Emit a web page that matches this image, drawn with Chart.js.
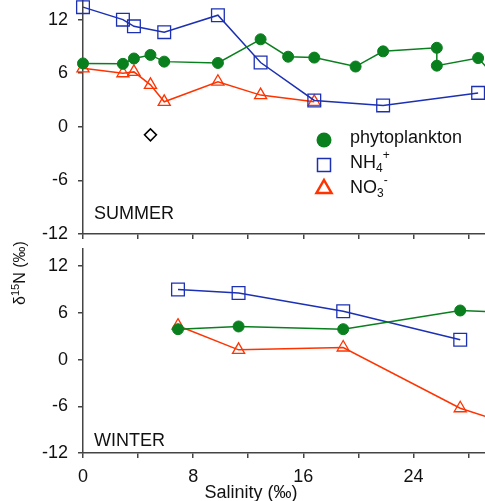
<!DOCTYPE html>
<html>
<head>
<meta charset="utf-8">
<script src="https://cdn.jsdelivr.net/npm/chart.js@4/dist/chart.umd.min.js"></script>
<style>
  html, body { margin: 0; padding: 0; background: #fff; overflow: hidden; }
  #wrap { position: relative; width: 485px; height: 501px; }
  #summer { position: absolute; left: 0; top: 0; }
  #winter { position: absolute; left: 0; top: 236px; }
</style>
</head>
<body>
<div id="wrap">
  <canvas id="summer" width="485" height="241"></canvas>
  <canvas id="winter" width="485" height="265"></canvas>
</div>
<script>
    // Summer samples (salinity in ‰, d15N in ‰)
    var summerPhytoSal = [0, 2.9, 3.7, 4.9, 5.9, 9.8, 12.9, 14.9, 16.8, 19.8, 21.8, 25.7, 25.7, 28.7, 30];
    var summerPhyto    = [7.1, 7.05, 7.65, 8.05, 7.3, 7.15, 9.8, 7.85, 7.75, 6.75, 8.45, 8.85, 6.85, 7.7, 5.5];
    var summerNH4Sal   = [0, 2.9, 3.7, 5.9, 9.8, 12.9, 16.8, 21.8, 28.7];
    var summerNH4      = [13.4, 12.0, 11.25, 10.6, 12.5, 7.2, 2.95, 2.4, 3.8];
    var summerNO3Sal   = [0, 2.9, 3.7, 4.9, 5.9, 9.8, 12.9, 16.8];
    var summerNO3      = [6.55, 6.0, 6.15, 4.7, 2.8, 5.05, 3.55, 2.8];
    var summerOtherSal = [4.9];
    var summerOther    = [-0.9];

    // Winter samples
    var winterPhytoSal = [6.9, 11.3, 18.9, 27.4, 30];
    var winterPhyto    = [3.9, 4.25, 3.9, 6.3, 6.1];
    var winterNH4Sal   = [6.9, 11.3, 18.9, 27.4];
    var winterNH4      = [9.0, 8.55, 6.2, 2.55];
    var winterNO3Sal   = [6.9, 11.3, 18.9, 27.4, 30];
    var winterNO3      = [4.35, 1.25, 1.55, -6.25, -7.75];

    // Axis ticks
    var yTicks  = [-12, -6, 0, 6, 12];
    var xTicks  = [0, 4, 8, 12, 16, 20, 24, 28];
    var xLabels = [0, 8, 16, 24];

    var FONT = '"Liberation Sans", Arial, sans-serif';
    var GREEN = '#0a7f1e', BLUE = '#1c30b4', RED = '#ff3300';
    var AXIS = '#444';

    function pts(xs, ys) {
        return xs.map(function (x, i) { return { x: x, y: ys[i] }; });
    }

    function phytoSet(data) {
        return {
            label: 'phytoplankton', data: data,
            borderColor: GREEN, backgroundColor: GREEN, borderWidth: 1.5,
            pointStyle: 'circle', pointRadius: 5.5, pointBorderWidth: 1,
            pointBackgroundColor: GREEN, clip: false
        };
    }
    function nh4Set(data) {
        return {
            label: 'NH4+', data: data,
            borderColor: BLUE, backgroundColor: 'rgba(0,0,0,0)', borderWidth: 1.5,
            pointStyle: 'rect', pointRadius: 9, pointBorderWidth: 1.3,
            pointBackgroundColor: 'rgba(0,0,0,0)', clip: false
        };
    }
    function no3Set(data) {
        return {
            label: 'NO3-', data: data,
            borderColor: RED, backgroundColor: 'rgba(0,0,0,0)', borderWidth: 1.5,
            pointStyle: 'triangle', pointRadius: 7, pointBorderWidth: 1.3,
            pointBackgroundColor: 'rgba(0,0,0,0)', clip: false
        };
    }

    function makeScales(showLabels, xHeight) {
        return {
            x: {
                type: 'linear', min: 0, max: 29.2,
                afterBuildTicks: function (s) { s.ticks = xTicks.map(function (v) { return { value: v }; }); },
                afterFit: function (s) { s.height = xHeight; s.paddingLeft = 0; s.paddingRight = 0; },
                grid: { drawOnChartArea: false, drawTicks: true, tickLength: 5, color: AXIS, lineWidth: 1.5 },
                border: { color: AXIS, width: 1.5 },
                ticks: {
                    display: showLabels, padding: 8, color: '#111', maxRotation: 0, autoSkip: false,
                    font: { family: FONT, size: 18 },
                    callback: function (v) { return xLabels.indexOf(v) >= 0 ? String(v) : ''; }
                }
            },
            y: {
                min: -12, max: 14.2,
                afterBuildTicks: function (s) { s.ticks = yTicks.map(function (v) { return { value: v }; }); },
                afterFit: function (s) { s.width = 83; s.paddingTop = 0; s.paddingBottom = 0; },
                grid: { drawOnChartArea: false, drawTicks: true, tickLength: 5, color: AXIS, lineWidth: 1.5 },
                border: { color: AXIS, width: 1.5 },
                ticks: { padding: 10, color: '#111', font: { family: FONT, size: 18 } }
            }
        };
    }

    // text with sub/superscript pieces: [text, size, dy]
    function drawPieces(ctx, x, y, pieces) {
        pieces.forEach(function (p) {
            ctx.font = p[1] + 'px ' + FONT;
            ctx.fillText(p[0], x, y + p[2]);
            x += ctx.measureText(p[0]).width;
        });
    }
    function piecesWidth(ctx, pieces) {
        var w = 0;
        pieces.forEach(function (p) { ctx.font = p[1] + 'px ' + FONT; w += ctx.measureText(p[0]).width; });
        return w;
    }

    var summerText = {
        id: 'summerText',
        afterDraw: function (chart) {
            var ctx = chart.ctx;
            ctx.save();
            ctx.fillStyle = '#111';
            ctx.textBaseline = 'alphabetic';
            ctx.font = '18px ' + FONT;
            ctx.fillText('SUMMER', 94, 219);

            // legend
            var mx = 324;
            ctx.fillStyle = GREEN;
            ctx.beginPath(); ctx.arc(mx, 140, 7.5, 0, Math.PI * 2); ctx.fill();
            ctx.strokeStyle = BLUE; ctx.lineWidth = 1.5;
            ctx.strokeRect(mx - 6.5, 158.5, 13, 13);
            ctx.strokeStyle = RED; ctx.lineWidth = 2.5;
            ctx.beginPath(); ctx.moveTo(mx, 180); ctx.lineTo(mx + 7.5, 193); ctx.lineTo(mx - 7.5, 193); ctx.closePath(); ctx.stroke();

            ctx.fillStyle = '#111';
            drawPieces(ctx, 350, 143, [['phytoplankton', 18, 0]]);
            drawPieces(ctx, 350, 168, [['NH', 18, 0], ['4', 12, 4], ['+', 12, -9]]);
            drawPieces(ctx, 350, 193, [['NO', 18, 0], ['3', 12, 4], ['-', 12, -9]]);
            ctx.restore();
        }
    };

    var winterText = {
        id: 'winterText',
        afterDraw: function (chart) {
            var ctx = chart.ctx;
            ctx.save();
            ctx.fillStyle = '#111';
            ctx.textBaseline = 'alphabetic';
            ctx.font = '18px ' + FONT;
            ctx.fillText('WINTER', 94, 210);

            // x axis title
            ctx.textAlign = 'center';
            ctx.fillText('Salinity (‰)', 251, 262);
            ctx.textAlign = 'left';

            // y axis title, rotated
            var pieces = [['δ', 16, 0], ['15', 11, -6], ['N (‰)', 16, 0]];
            ctx.translate(19, 37);
            ctx.rotate(-Math.PI / 2);
            var w = piecesWidth(ctx, pieces);
            drawPieces(ctx, -w / 2, 6, pieces);
            ctx.restore();
        }
    };

    var common = {
        responsive: false,
        animation: false,
        devicePixelRatio: 1,
        plugins: { legend: { display: false }, tooltip: { enabled: false } }
    };

    new Chart(document.getElementById('summer').getContext('2d'), {
        type: 'line',
        data: {
            datasets: [
                phytoSet(pts(summerPhytoSal, summerPhyto)),
                nh4Set(pts(summerNH4Sal, summerNH4)),
                no3Set(pts(summerNO3Sal, summerNO3)),
                {
                    label: 'other', data: pts(summerOtherSal, summerOther), showLine: false,
                    pointStyle: 'rectRot', pointRadius: 6, pointBorderWidth: 1.5,
                    borderColor: '#000', pointBackgroundColor: '#fff', clip: false
                }
            ]
        },
        options: Object.assign({}, common, {
            layout: { autoPadding: false, padding: { top: 0, right: 0, bottom: 0, left: 0 } },
            scales: makeScales(false, 7)
        }),
        plugins: [summerText]
    });

    new Chart(document.getElementById('winter').getContext('2d'), {
        type: 'line',
        data: {
            datasets: [
                phytoSet(pts(winterPhytoSal, winterPhyto)),
                nh4Set(pts(winterNH4Sal, winterNH4)),
                no3Set(pts(winterNO3Sal, winterNO3))
            ]
        },
        options: Object.assign({}, common, {
            layout: { autoPadding: false, padding: { top: 13, right: 0, bottom: 0, left: 0 } },
            scales: makeScales(true, 48)
        }),
        plugins: [winterText]
    });
</script>
</body>
</html>
